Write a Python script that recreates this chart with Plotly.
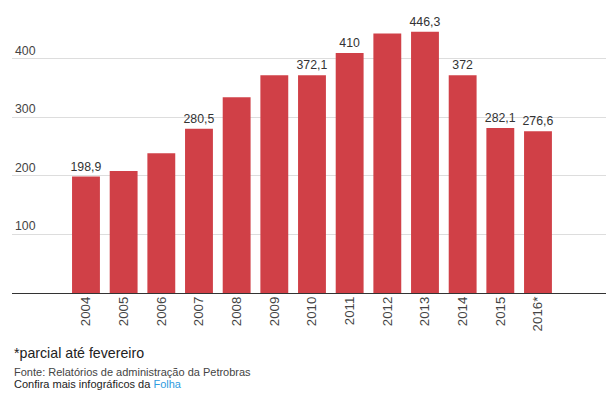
import plotly.graph_objects as go

years = ["2004", "2005", "2006", "2007", "2008", "2009", "2010", "2011", "2012", "2013", "2014", "2015", "2016*"]
values = [198.9, 208.5, 239, 280.5, 334.5, 372, 372.1, 410, 443.6, 446.3, 372, 282.1, 276.6]
labels = ["198,9", "", "", "280,5", "", "", "372,1", "410", "", "446,3", "372", "282,1", "276,6"]
ytick_vals = [100, 200, 300, 400]

# page has an 8px body margin; figure coordinates = page coordinates - 8
OFF = 8
W, H = 614 - OFF, 399 - OFF
ML, MR, MT = 12 - OFF, 0, 0
BASE = 293.4 - OFF
MB = H - BASE
plot_h = H - MT - MB

fig = go.Figure(go.Bar(
    x=list(range(len(years))), y=values,
    marker=dict(color="#D04047", line=dict(width=0)),
    width=0.74,
    text=labels, textposition="outside", cliponaxis=False, constraintext="none",
    textfont=dict(family="Liberation Sans, Arial", size=12.3, color="#333333"),
    hoverinfo="skip",
))

fig.update_layout(
    width=W, height=H,
    margin=dict(l=ML, r=MR, t=MT, b=MB, autoexpand=False),
    paper_bgcolor="white", plot_bgcolor="white",
    showlegend=False,
    font=dict(family="Liberation Sans, Arial", size=13, color="#444444"),
)
fig.update_xaxes(
    range=[-1.964, 14.018], automargin=False,
    tickmode="array", tickvals=list(range(len(years))), ticktext=years,
    tickangle=-90, showgrid=False, zeroline=False,
    showline=False, ticks="", tickfont=dict(size=13.3, color="#444444"),
)
fig.update_yaxes(
    range=[0, BASE / 0.586], automargin=False, tickvals=ytick_vals, ticktext=[str(v) for v in ytick_vals],
    ticklabelposition="inside top", showgrid=True, gridcolor="#DDDDDD", gridwidth=1,
    zeroline=True, zerolinecolor="#333333", zerolinewidth=1,
    showline=False, ticks="", tickfont=dict(size=12.3, color="#444444"),
)

def py(pix):
    return (BASE - (pix - OFF)) / plot_h

fig.add_annotation(xref="paper", yref="paper", x=0, y=py(353), xanchor="left", yanchor="middle",
                   text="*parcial até fevereiro", showarrow=False,
                   font=dict(size=14.2, color="#222222", family="Liberation Sans, Arial"))
fig.add_annotation(xref="paper", yref="paper", x=0, y=py(372.5), xanchor="left", yanchor="middle",
                   text="Fonte: Relatórios de administração da Petrobras", showarrow=False,
                   font=dict(size=11, color="#444444", family="Liberation Sans, Arial"))
fig.add_annotation(xref="paper", yref="paper", x=0, y=py(385), xanchor="left", yanchor="middle",
                   text="Confira mais infográficos da <span style='color:#2E9BE0'>Folha</span>", showarrow=False,
                   font=dict(size=11, color="#222222", family="Liberation Sans, Arial"))

fig.write_html("out.html")
